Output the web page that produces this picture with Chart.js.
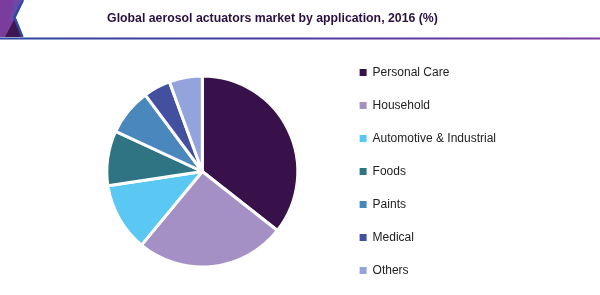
<!DOCTYPE html>
<html>
<head>
<meta charset="utf-8">
<script src="https://cdn.jsdelivr.net/npm/chart.js@4.4.1/dist/chart.umd.min.js"></script>
<style>
  html, body { margin: 0; padding: 0; background: #fff; }
  #wrap { position: relative; width: 600px; height: 295px; overflow: hidden; }
  #title { position: absolute; left: 0; width: 545px; top: 9px; text-align: center;
    font-family: "Liberation Sans", Arial, sans-serif; font-weight: bold; font-size: 12.3px;
    color: #2a1040; line-height: 18px; white-space: nowrap; }
  canvas { position: absolute; left: 0; top: 0; }
</style>
</head>
<body>
<div id="wrap">
  <canvas id="c" width="600" height="310"></canvas>
  <div id="title">Global aerosol actuators market by application, 2016 (%)</div>
</div>
<script>
const titleText = "Global aerosol actuators market by application, 2016 (%)";
const categories = ["Personal Care", "Household", "Automotive & Industrial", "Foods", "Paints", "Medical", "Others"];
const shares = [35.6, 25.4, 11.6, 9.3, 7.9, 4.6, 5.6];
const colors = ["#38104a", "#a490c4", "#5bc8f4", "#2e7482", "#4a87bd", "#4350a0", "#93a3db"];

const headerDeco = {
  id: 'headerDeco',
  beforeDraw(chart) {
    const ctx = chart.ctx;
    ctx.save();
    // purple corner shape (everything left of the chevron)
    ctx.fillStyle = '#7b3d9d';
    ctx.beginPath();
    ctx.moveTo(0, 0); ctx.lineTo(22, 0); ctx.lineTo(14, 17.5); ctx.lineTo(22, 37); ctx.lineTo(0, 37);
    ctx.closePath(); ctx.fill();
    // lighter bluish band next to the chevron
    ctx.fillStyle = '#6a4aa6';
    ctx.beginPath();
    ctx.moveTo(14, 0); ctx.lineTo(22, 0); ctx.lineTo(14, 17.5); ctx.lineTo(15, 20); ctx.lineTo(9, 20);
    ctx.closePath(); ctx.fill();
    // dark triangle
    ctx.fillStyle = '#3e1652';
    ctx.beginPath();
    ctx.moveTo(14.5, 19); ctx.lineTo(5, 37); ctx.lineTo(21, 37);
    ctx.closePath(); ctx.fill();
    // blue chevron
    ctx.strokeStyle = '#2d4aa0';
    ctx.lineWidth = 2.5;
    ctx.beginPath();
    ctx.moveTo(23, 0); ctx.lineTo(14.5, 17.5); ctx.lineTo(22.5, 37);
    ctx.stroke();
    // underline
    const lg = ctx.createLinearGradient(0, 0, 600, 0);
    lg.addColorStop(0, '#2b45a0');
    lg.addColorStop(0.5, '#4a3aa0');
    lg.addColorStop(1, '#7c3ba0');
    ctx.strokeStyle = lg;
    ctx.lineWidth = 2;
    ctx.beginPath();
    ctx.moveTo(0, 38.5); ctx.lineTo(600, 38.5);
    ctx.stroke();
    ctx.restore();
  }
};

new Chart(document.getElementById('c'), {
  type: 'pie',
  data: {
    labels: categories,
    datasets: [{
      data: shares,
      backgroundColor: colors,
      borderColor: '#ffffff',
      borderWidth: 3,
      radius: 95.5
    }]
  },
  options: {
    responsive: false,
    animation: false,
    layout: { padding: { top: 33, bottom: 0, left: 66, right: 94 } },
    plugins: {
      title: { display: false },
      tooltip: { enabled: false },
      legend: {
        position: 'right',
        align: 'center',
        labels: {
          boxWidth: 7,
          boxHeight: 7,
          padding: 21,
          color: '#222222',
          font: { family: '"Liberation Sans", Arial, sans-serif', size: 12 },
          generateLabels(chart) {
            const base = Chart.overrides.pie.plugins.legend.labels.generateLabels(chart);
            return base.map(l => Object.assign({}, l, { lineWidth: 0, strokeStyle: l.fillStyle }));
          }
        }
      }
    }
  },
  plugins: [headerDeco]
});
</script>
</body>
</html>
